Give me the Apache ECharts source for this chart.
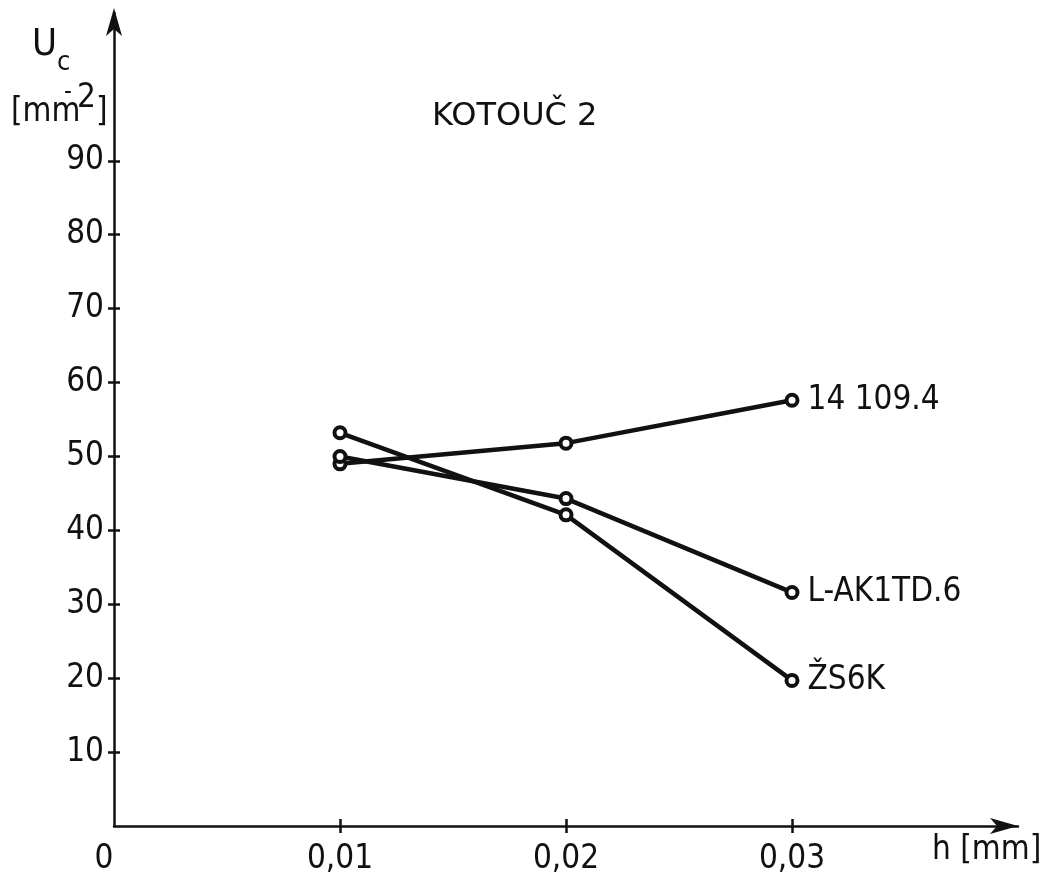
<!DOCTYPE html>
<html>
<head>
<meta charset="utf-8">
<title>KOTOUČ 2</title>
<script src="https://cdn.jsdelivr.net/npm/echarts@6/dist/echarts.min.js"></script>
<style>
  html, body { margin: 0; padding: 0; background: #fff; }
  #chart { width: 1050px; height: 879px; }
</style>
</head>
<body>
<div id="chart"></div>
<script>
// Depth of cut h [mm]
const hValues = [0.01, 0.02, 0.03];
// U_c [mm^-2] for each wheel
const uc14109 = [49.0, 51.8, 57.6];
const ucLAK1TD6 = [50.0, 44.3, 31.6];
const ucZS6K = [53.2, 42.1, 19.7];
const seriesNames = ['14 109.4', 'L-AK1TD.6', 'ŽS6K'];
const seriesValues = [uc14109, ucLAK1TD6, ucZS6K];
// Axis ticks
const yTickValues = [10, 20, 30, 40, 50, 60, 70, 80, 90];
const xTickValues = [0.01, 0.02, 0.03];
const xLabelValues = [0, 0.01, 0.02, 0.03];

const INK = '#111';
const FONT = '"DejaVu Sans Condensed", "DejaVu Sans", sans-serif';
const WIDE = '"DejaVu Sans", sans-serif';

// plot area in px
const GRID = { left: 114, right: 32, top: 13, bottom: 53, outerBoundsMode: 'none' };

const chart = echarts.init(document.getElementById('chart'), null, { renderer: 'canvas' });

function buildData(vals) {
  return vals.map((v, i) => {
    const pt = [hValues[i], v];
    if (i === vals.length - 1) {
      return { value: pt, label: { show: true } };
    }
    return pt;
  });
}

const series = seriesNames.map((name, k) => ({
  name: name,
  type: 'line',
  xAxisIndex: 0,
  yAxisIndex: 0,
  data: buildData(seriesValues[k]),
  symbol: 'circle',
  symbolSize: 11,
  showSymbol: true,
  lineStyle: { color: INK, width: 4.5 },
  itemStyle: { color: '#fff', borderColor: INK, borderWidth: 4 },
  label: {
    show: false,
    position: 'right',
    distance: 8,
    formatter: () => name,
    color: INK,
    fontFamily: FONT,
    fontSize: 33
  },
  emphasis: { disabled: true },
  animation: false,
  z: 3
}));

const tickStyle = { color: INK, width: 2.5 };

const option = {
  backgroundColor: '#fff',
  animation: false,
  // second grid overlays the first; its axes carry the inward half of each tick
  grid: [Object.assign({}, GRID), Object.assign({}, GRID)],
  xAxis: [
    {
      gridIndex: 0,
      type: 'value', min: 0, max: 0.04, position: 'bottom',
      splitLine: { show: false },
      axisLine: {
        show: true,
        lineStyle: { color: INK, width: 2.5 },
        symbol: ['none', 'arrow'],
        symbolSize: [12, 28],
        symbolOffset: [0, 0]
      },
      axisTick: { show: true, inside: false, length: 7, lineStyle: tickStyle, customValues: xTickValues },
      axisLabel: {
        show: true,
        customValues: xLabelValues,
        margin: 17,
        color: INK,
        fontFamily: FONT,
        fontSize: 33,
        formatter: (v) => v === 0 ? '{z|0}' : v.toFixed(2).replace('.', ','),
        rich: { z: { fontFamily: FONT, fontSize: 33, color: INK, padding: [0, 20, 0, 0] } }
      }
    },
    {
      gridIndex: 1,
      type: 'value', min: 0, max: 0.04, position: 'bottom',
      splitLine: { show: false },
      axisLine: { show: false },
      axisTick: { show: true, inside: true, length: 7, lineStyle: tickStyle, customValues: xTickValues },
      axisLabel: { show: false }
    }
  ],
  yAxis: [
    {
      gridIndex: 0,
      type: 'value', min: 0, max: 110, position: 'left',
      splitLine: { show: false },
      axisLine: {
        show: true,
        lineStyle: { color: INK, width: 2.5 },
        symbol: ['none', 'arrow'],
        symbolSize: [12, 28],
        symbolOffset: [0, 5]
      },
      axisTick: { show: true, inside: false, length: 6, lineStyle: tickStyle, customValues: yTickValues },
      axisLabel: {
        show: true,
        customValues: yTickValues,
        margin: 10,
        color: INK,
        fontFamily: FONT,
        fontSize: 33,
        lineHeight: 40,
        padding: [8, 0, 0, 0]
      }
    },
    {
      gridIndex: 1,
      type: 'value', min: 0, max: 110, position: 'left',
      splitLine: { show: false },
      axisLine: { show: false },
      axisTick: { show: true, inside: true, length: 6, lineStyle: tickStyle, customValues: yTickValues },
      axisLabel: { show: false }
    }
  ],
  series: series,
  graphic: [
    // y-axis title: U_c [mm^-2]
    { type: 'text', left: 32, top: 26, style: { text: 'U', fontFamily: FONT, fontSize: 38, fill: INK } },
    { type: 'text', left: 57, top: 49, style: { text: 'c', fontFamily: FONT, fontSize: 27, fill: INK } },
    { type: 'text', left: 11, top: 96, style: { text: '[mm', fontFamily: FONT, fontSize: 33, fill: INK } },
    { type: 'text', left: 64, top: 81, style: { text: '-', fontFamily: FONT, fontSize: 24, fill: INK } },
    { type: 'text', left: 77, top: 82, style: { text: '2', fontFamily: FONT, fontSize: 33, fill: INK } },
    { type: 'text', left: 96, top: 96, style: { text: ']', fontFamily: FONT, fontSize: 33, fill: INK } },
    // chart heading
    { type: 'text', left: 432, top: 101, style: { text: 'KOTOUČ 2', fontFamily: WIDE, fontSize: 32, fill: INK } },
    // x-axis title
    { type: 'text', left: 932, top: 834, style: { text: 'h [mm]', fontFamily: FONT, fontSize: 33, fill: INK } }
  ]
};

chart.setOption(option);
</script>
</body>
</html>
